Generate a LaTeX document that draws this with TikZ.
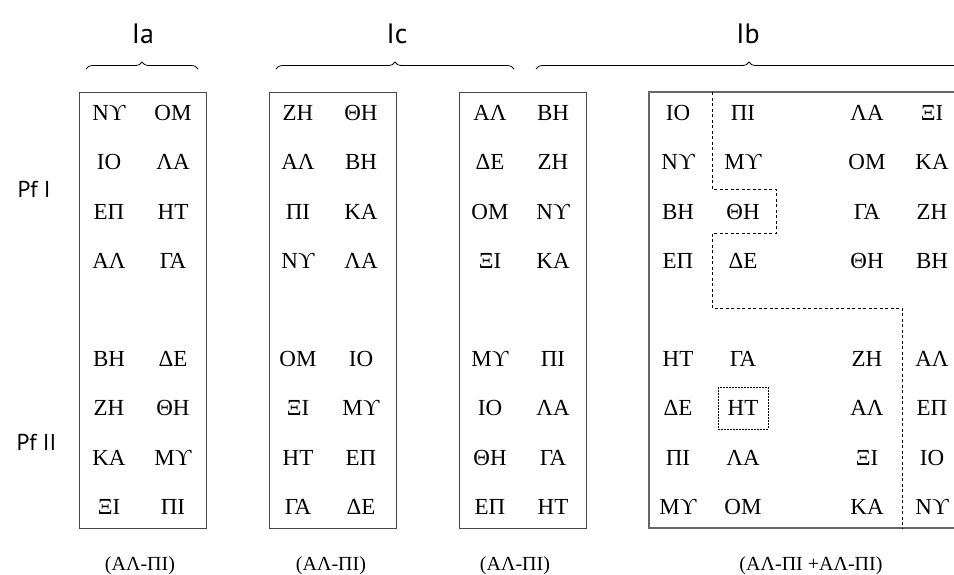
\documentclass[tikz,border=0pt]{standalone}
\usepackage{fontspec}
\setmainfont{Liberation Serif}
\newfontfamily\labelfont{PT Sans}
\usetikzlibrary{decorations.pathreplacing,calc}

\tikzset{
  cell/.style={font=\fontsize{23}{23}\selectfont, inner sep=0pt},
  grouplabel/.style={font=\labelfont\fontsize{28}{28}\selectfont, anchor=base},
  pflabel/.style={font=\labelfont\fontsize{23}{23}\selectfont, anchor=base west},
  pairlabel/.style={font=\fontsize{20}{20}\selectfont, anchor=base},
  box/.style={draw=black!72, line width=1pt},
  bigbox/.style={draw=black!60, line width=1.6pt},
  grp/.style={decorate, decoration={brace, amplitude=7pt}, line width=0.8pt},
  cut/.style={draw, dash pattern=on 3pt off 2.5pt, line width=0.8pt},
  dotbox/.style={draw, dash pattern=on 1.6pt off 1.4pt, line width=0.7pt},
}

\begin{document}
\begin{tikzpicture}[x=1pt,y=-1pt]
  \useasboundingbox (0,0) rectangle (954,574);
  \clip (0,0) rectangle (954,574);

  % group labels and braces
  \node[grouplabel] (Ia) at (143,43) {Ia};
  \node[grouplabel] (Ic) at (397,43) {Ic};
  \node[grouplabel] (Ib) at (748,43) {Ib};
  \draw[grp] (86,69) -- (198,69);
  \draw[grp] (276,69) -- (514,69);
  \draw[grp] (536,69) -- (962,69);

  \node[pflabel] (pf1) at (14,197) {Pf I};
  \node[pflabel] (pf2) at (13,450) {Pf II};

  % boxes
  \draw[box] (79,92) rectangle (206,528);
  \draw[box] (269,92) rectangle (396,528);
  \draw[box] (459,92) rectangle (586,528);
  \draw[bigbox] (649,92) rectangle (980,528);

  % Ia
  \foreach \p/\q/\y [count=\i] in {Νϒ/ΟΜ/113, ΙΟ/ΛΑ/162, ΕΠ/ΗΤ/212, ΑΛ/ΓΑ/261,
      ΒΗ/ΔΕ/359, ΖΗ/ΘΗ/408, ΚΑ/Μϒ/458, ΞΙ/ΠΙ/507} {
    \node[cell] (a\i1) at (109,\y) {\p};
    \node[cell] (a\i2) at (173,\y) {\q};
  }

  % Ic
  \foreach \p/\q/\y [count=\i] in {ΖΗ/ΘΗ/113, ΑΛ/ΒΗ/162, ΠΙ/ΚΑ/212, Νϒ/ΛΑ/261,
      ΟΜ/ΙΟ/359, ΞΙ/Μϒ/408, ΗΤ/ΕΠ/458, ΓΑ/ΔΕ/507} {
    \node[cell] (c\i1) at (298,\y) {\p};
    \node[cell] (c\i2) at (361,\y) {\q};
  }
  \foreach \p/\q/\y [count=\i] in {ΑΛ/ΒΗ/113, ΔΕ/ΖΗ/162, ΟΜ/Νϒ/212, ΞΙ/ΚΑ/261,
      Μϒ/ΠΙ/359, ΙΟ/ΛΑ/408, ΘΗ/ΓΑ/458, ΕΠ/ΗΤ/507} {
    \node[cell] (d\i1) at (490,\y) {\p};
    \node[cell] (d\i2) at (553,\y) {\q};
  }

  % Ib
  \foreach \p/\q/\r/\s/\y [count=\i] in {ΙΟ/ΠΙ/ΛΑ/ΞΙ/113, Νϒ/Μϒ/ΟΜ/ΚΑ/162,
      ΒΗ/ΘΗ/ΓΑ/ΖΗ/212, ΕΠ/ΔΕ/ΘΗ/ΒΗ/261, ΗΤ/ΓΑ/ΖΗ/ΑΛ/359,
      ΔΕ/ΗΤ/ΑΛ/ΕΠ/408, ΠΙ/ΛΑ/ΞΙ/ΙΟ/458, Μϒ/ΟΜ/ΚΑ/Νϒ/507} {
    \node[cell] (b\i1) at (678,\y) {\p};
    \node[cell] (b\i2) at (743,\y) {\q};
    \node[cell] (b\i3) at (867,\y) {\r};
    \node[cell] (b\i4) at (932,\y) {\s};
  }
  \draw[cut] (712,92) -- (712,189) -- (776,189) -- (776,233) -- (712,233)
    -- (712,308) -- (902,308) -- (902,528);
  \draw[dotbox] ($(b62)+(-25,-21)$) rectangle ($(b62)+(25,21)$);

  % sums
  \node[pairlabel] (sa) at (140,570) {(ΑΛ-ΠΙ)};
  \node[pairlabel] (sc) at (331,570) {(ΑΛ-ΠΙ)};
  \node[pairlabel] (sd) at (515,570) {(ΑΛ-ΠΙ)};
  \node[pairlabel] (sb) at (811,570) {(ΑΛ-ΠΙ +ΑΛ-ΠΙ)};

\end{tikzpicture}
\end{document}
